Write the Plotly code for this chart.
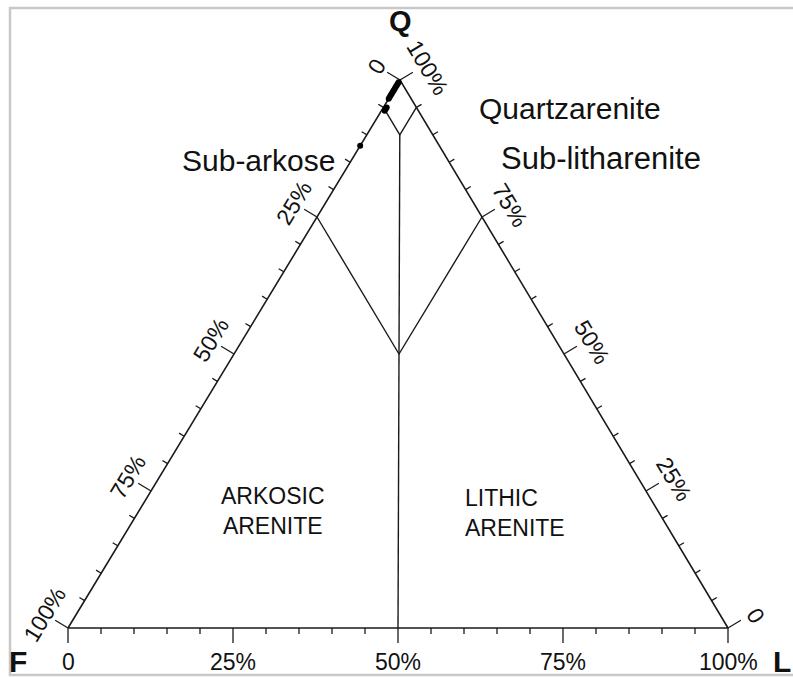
import math
import plotly.graph_objects as go

# ---------------- data ----------------
tick_values = list(range(0, 101, 5))          # tick every 5 %
major_ticks = [0, 25, 50, 75, 100]
bottom_tick_labels = ["0", "25%", "50%", "75%", "100%"]   # L % along F-L edge
left_tick_labels = ["0", "25%", "50%", "75%", "100%"]     # F % along Q-F edge (0 at Q)
right_tick_labels = ["0", "25%", "50%", "75%", "100%"]    # Q % along L-Q edge (0 at L)

# field boundaries, each as a list of (Q, F, L) vertices
boundary_quartz = [(95, 5, 0), (90, 5, 5), (95, 0, 5)]
boundary_median = [(90, 5, 5), (0, 50, 50)]
boundary_sub = [(75, 25, 0), (50, 25, 25), (75, 0, 25)]

# samples (Q, F, L in %)
sample_Q = [99.6, 99.3, 99.0, 98.7, 98.4, 98.1, 97.8, 97.5, 97.2, 96.9, 96.6, 95.0, 94.7, 94.4, 88.0]
sample_F = [0.4, 0.7, 1.0, 1.3, 1.6, 1.9, 2.2, 2.5, 2.8, 3.1, 3.4, 4.5, 4.8, 5.1, 12.0]
sample_L = [round(100 - q - f, 2) for q, f in zip(sample_Q, sample_F)]

# ---------------- geometry (pixel frame of the drawing) ----------------
VQ, VF, VL = (400.0, 80.0), (68.0, 628.0), (728.0, 628.0)


def tern(q, f, l):
    s = q + f + l
    return ((q * VQ[0] + f * VF[0] + l * VL[0]) / s,
            (q * VQ[1] + f * VF[1] + l * VL[1]) / s)


def unit(a, b):
    dx, dy = b[0] - a[0], b[1] - a[1]
    n = math.hypot(dx, dy)
    return dx / n, dy / n


dl = unit(VF, VQ)                 # along left edge (up)
n_left = (dl[1], -dl[0])          # outward normal (left/up)
dr = unit(VQ, VL)                 # along right edge (down)
n_right = (abs(dr[1]), -abs(dr[0]))
n_bottom = (0.0, 1.0)

LINE = "#1a1a1a"
FONT = "Liberation Sans, Arial, sans-serif"

fig = go.Figure()

# triangle outline
tri = [VF, VQ, VL, VF]
fig.add_trace(go.Scatter(x=[p[0] for p in tri], y=[p[1] for p in tri], mode="lines",
                         line=dict(color=LINE, width=1.6), hoverinfo="skip", showlegend=False))

# field boundaries
for b in (boundary_quartz, boundary_median, boundary_sub):
    pts = [tern(*p) for p in b]
    fig.add_trace(go.Scatter(x=[p[0] for p in pts], y=[p[1] for p in pts], mode="lines",
                             line=dict(color=LINE, width=1.4), hoverinfo="skip", showlegend=False))

# ticks
tx, ty = [], []
edges = [
    (lambda v: tern(100 - v, v, 0), n_left),
    (lambda v: tern(v, 0, 100 - v), n_right),
    (lambda v: tern(0, 100 - v, v), n_bottom),
]
for fn, nrm in edges:
    for v in tick_values:
        p = fn(v)
        ln = 15 if v in major_ticks else 6
        tx += [p[0], p[0] + nrm[0] * ln, None]
        ty += [p[1], p[1] + nrm[1] * ln, None]
fig.add_trace(go.Scatter(x=tx, y=ty, mode="lines", line=dict(color=LINE, width=1.3),
                         hoverinfo="skip", showlegend=False))

# samples
pts = [tern(q, f, l) for q, f, l in zip(sample_Q, sample_F, sample_L)]
fig.add_trace(go.Scatter(x=[p[0] for p in pts], y=[p[1] for p in pts], mode="markers",
                         marker=dict(color="black", size=6), showlegend=False))

ann = []
# tick labels
for v, lab in zip(major_ticks, bottom_tick_labels):
    p = tern(0, 100 - v, v)
    ann.append(dict(x=p[0], y=p[1] + 34, text=lab, font=dict(size=23)))
ang_left = -math.degrees(math.atan2(-dl[1], dl[0]))
for v, lab in zip(major_ticks, left_tick_labels):
    p = tern(100 - v, v, 0)
    ann.append(dict(x=p[0] + n_left[0] * 27, y=p[1] + n_left[1] * 27, text=lab,
                    textangle=ang_left, font=dict(size=23)))
ang_right = math.degrees(math.atan2(dr[1], dr[0]))
for v, lab in zip(major_ticks, right_tick_labels):
    p = tern(v, 0, 100 - v)
    ann.append(dict(x=p[0] + n_right[0] * 30 + dr[0] * 4, y=p[1] + n_right[1] * 30 + dr[1] * 4,
                    text=lab, textangle=ang_right, font=dict(size=23)))

# corner letters
ann.append(dict(x=VQ[0], y=21, text="<b>Q</b>", font=dict(size=29)))
ann.append(dict(x=18, y=661, text="<b>F</b>", font=dict(size=30)))
ann.append(dict(x=782, y=661, text="<b>L</b>", font=dict(size=30)))

# field names
ann.append(dict(x=570, y=108, text="Quartzarenite", font=dict(size=30)))
ann.append(dict(x=601, y=158, text="Sub-litharenite", font=dict(size=31)))
ann.append(dict(x=258, y=160, text="Sub-arkose", font=dict(size=30)))
ann.append(dict(x=273, y=511, text="ARKOSIC<br>ARENITE", font=dict(size=23), align="center"))
ann.append(dict(x=463, y=513, text="LITHIC<br>ARENITE", font=dict(size=23), align="left",
                xanchor="left"))

for a in ann:
    a.setdefault("xanchor", "center")
    a.setdefault("yanchor", "middle")
    a["showarrow"] = False
    a["xref"] = "x"
    a["yref"] = "y"
    a["font"] = dict(family=FONT, color="#111111", size=a["font"]["size"])

W, H = 793, 677
fig.update_layout(
    width=W, height=H,
    margin=dict(l=0, r=0, t=0, b=0),
    paper_bgcolor="white", plot_bgcolor="white",
    xaxis=dict(range=[0, W], visible=False, fixedrange=True),
    yaxis=dict(range=[H, 0], visible=False, fixedrange=True),
    annotations=ann,
    shapes=[dict(type="rect", xref="x", yref="y", x0=10, y0=8, x1=805, y1=675,
                 line=dict(color="#c8c8c8", width=2.5), layer="below")],
    showlegend=False,
    hovermode=False,
)

fig.write_html("out.html",
               config={"displayModeBar": False, "staticPlot": True},
               post_script="document.body.style.margin='0';document.body.style.overflow='hidden';")
